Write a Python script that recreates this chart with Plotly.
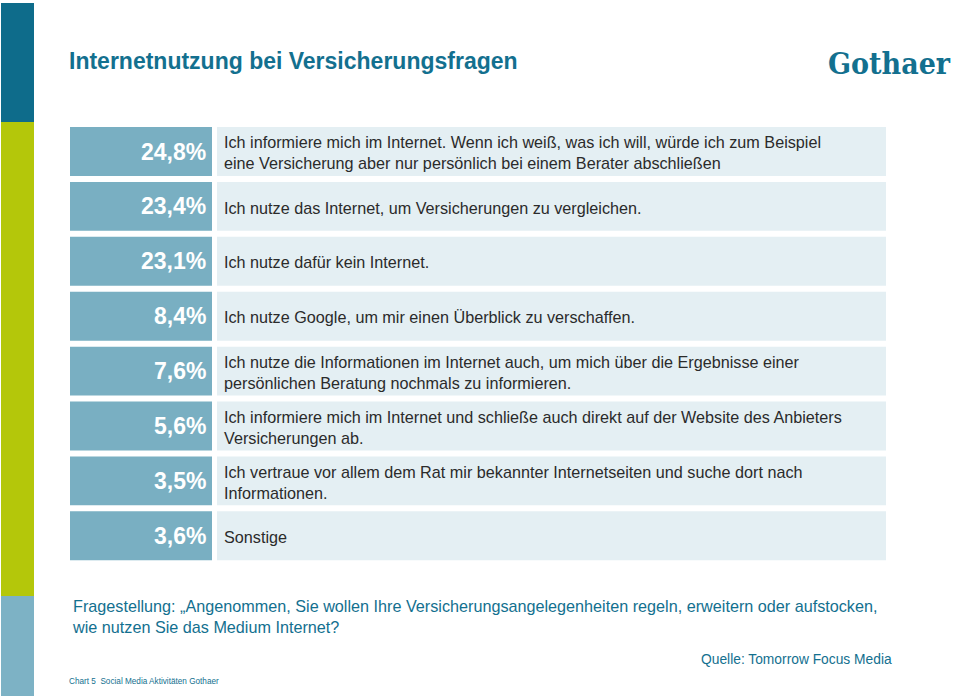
import plotly.graph_objects as go

# ---- data ----
values = [24.8, 23.4, 23.1, 8.4, 7.6, 5.6, 3.5, 3.6]
answers = [
    "Ich informiere mich im Internet. Wenn ich weiß, was ich will, würde ich zum Beispiel<br>eine Versicherung aber nur persönlich bei einem Berater abschließen",
    "Ich nutze das Internet, um Versicherungen zu vergleichen.",
    "Ich nutze dafür kein Internet.",
    "Ich nutze Google, um mir einen Überblick zu verschaffen.",
    "Ich nutze die Informationen im Internet auch, um mich über die Ergebnisse einer<br>persönlichen Beratung nochmals zu informieren.",
    "Ich informiere mich im Internet und schließe auch direkt auf der Website des Anbieters<br>Versicherungen ab.",
    "Ich vertraue vor allem dem Rat mir bekannter Internetseiten und suche dort nach<br>Informationen.",
    "Sonstige",
]
title_text = "Internetnutzung bei Versicherungsfragen"
question_text = ("Fragestellung: „Angenommen, Sie wollen Ihre Versicherungsangelegenheiten regeln, erweitern oder aufstocken,"
                 "<br>wie nutzen Sie das Medium Internet?")
source_text = "Quelle: Tomorrow Focus Media"
footer_text = "Chart 5  Social Media Aktivitäten Gothaer"
logo_text = "Gothaer"

# ---- layout constants ----
W, H = 960, 700
ROW0, PITCH = 151.5, 54.9
rows = list(range(len(values)))
pct_labels = [f"{v:.1f}".replace(".", ",") + "%" for v in values]

TEAL = "#13708f"
BOX_DARK = "#79afc2"
BOX_LIGHT = "#e4eff3"
FONT = "Liberation Sans, Arial, sans-serif"

fig = go.Figure()
fig.add_trace(go.Bar(
    orientation="h", y=rows, x=[142] * len(rows), base=[70] * len(rows),
    width=0.89, marker=dict(color=BOX_DARK, line=dict(width=0)), hoverinfo="skip",
))
fig.add_trace(go.Bar(
    orientation="h", y=rows, x=[669] * len(rows), base=[217] * len(rows),
    width=0.89, marker=dict(color=BOX_LIGHT, line=dict(width=0)), hoverinfo="skip",
))

ann = []
for r, p, a in zip(rows, pct_labels, answers):
    ann.append(dict(x=208, y=r, xref="x", yref="y", text=p, showarrow=False,
                    xanchor="right", yanchor="middle",
                    font=dict(family=FONT, size=23, color="white", weight="bold")))
    ann.append(dict(x=222, y=r + 0.02, xref="x", yref="y", text=a, showarrow=False,
                    xanchor="left", yanchor="middle", align="left",
                    font=dict(family=FONT, size=16.2, color="#2b2b2b")))

def py(p):
    return 1 - p / H

ann += [
    dict(x=67, y=py(61), xref="x", yref="paper", text=f"<b>{title_text}</b>", showarrow=False,
         xanchor="left", yanchor="middle", font=dict(family=FONT, size=23, color=TEAL)),
    dict(x=889, y=py(64), xref="x", yref="paper", text=f"<b>{logo_text}</b>", showarrow=False,
         xanchor="center", yanchor="middle",
         font=dict(family="DejaVu Serif Condensed, DejaVu Serif, serif", size=30, color=TEAL)),
    dict(x=70, y=py(616), xref="x", yref="paper", text=question_text, showarrow=False,
         xanchor="left", yanchor="middle", align="left",
         font=dict(family=FONT, size=16.2, color=TEAL)),
    dict(x=894, y=py(659), xref="x", yref="paper", text=source_text, showarrow=False,
         xanchor="right", yanchor="middle", font=dict(family=FONT, size=13.8, color=TEAL)),
    dict(x=67, y=py(681), xref="x", yref="paper", text=footer_text, showarrow=False,
         xanchor="left", yanchor="middle", font=dict(family=FONT, size=8.2, color=TEAL)),
]

shapes = [
    dict(type="rect", xref="x", yref="paper", x0=1, x1=34, y0=py(122), y1=py(3),
         fillcolor="#0e6c8b", line=dict(width=0), layer="below"),
    dict(type="rect", xref="x", yref="paper", x0=1, x1=34, y0=py(596), y1=py(122),
         fillcolor="#b4c70a", line=dict(width=0), layer="below"),
    dict(type="rect", xref="x", yref="paper", x0=1, x1=34, y0=py(696), y1=py(596),
         fillcolor="#7db2c5", line=dict(width=0), layer="below"),
]

y_top = -ROW0 / PITCH
y_bot = (H - ROW0) / PITCH
fig.update_layout(
    width=W, height=H, margin=dict(l=0, r=0, t=0, b=0),
    paper_bgcolor="white", plot_bgcolor="white",
    barmode="overlay", showlegend=False,
    xaxis=dict(range=[0, W], visible=False, fixedrange=True),
    yaxis=dict(range=[y_bot, y_top], visible=False, fixedrange=True),
    annotations=ann, shapes=shapes,
)
fig.write_html(
    "out.html",
    config={"displayModeBar": False},
    post_script="document.body.style.margin='0';document.body.style.overflow='hidden';",
)
